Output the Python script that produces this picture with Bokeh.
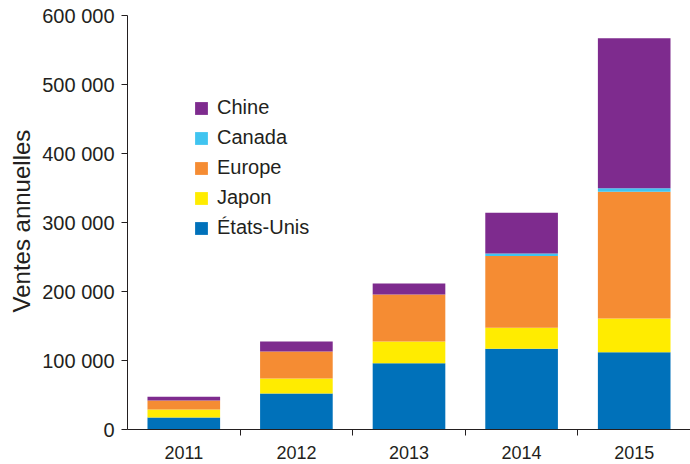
from bokeh.plotting import figure
from bokeh.models import ColumnDataSource, Range1d, FixedTicker, Legend, LegendItem, Title
from bokeh.embed import file_html
from bokeh.resources import INLINE

years = [2011, 2012, 2013, 2014, 2015]
year_labels = ["2011", "2012", "2013", "2014", "2015"]
etats_unis = [17500, 52000, 96000, 117000, 112000]
japon = [11500, 22000, 31500, 30500, 49000]
europe = [13000, 39000, 68000, 104000, 183500]
canada = [0, 0, 0, 3500, 5000]
chine = [5500, 14500, 16000, 59000, 217500]

series_keys = ["etats_unis", "japon", "europe", "canada", "chine"]
series_names = ["États-Unis", "Japon", "Europe", "Canada", "Chine"]
series_colors = ["#0071BA", "#FFEC00", "#F58C33", "#40C4F0", "#7E2B8E"]

y_ticks = [0, 100000, 200000, 300000, 400000, 500000, 600000]
y_tick_labels = ["0", "100 000", "200 000", "300 000", "400 000", "500 000", "600 000"]
y_title = "Ventes annuelles"

source = ColumnDataSource(dict(year=years, etats_unis=etats_unis, japon=japon,
                               europe=europe, canada=canada, chine=chine))

FONT = "Liberation Sans"
TXT = "#231F20"

p = figure(width=690, height=464, output_backend="svg", toolbar_location=None,
           x_range=Range1d(years[0] - 0.5, years[-1] + 0.5),
           y_range=Range1d(y_ticks[0], y_ticks[-1]),
           min_border_left=126, min_border_right=0, min_border_top=15, min_border_bottom=35)
p.outline_line_color = None
p.xgrid.visible = False
p.ygrid.visible = False

renderers = p.vbar_stack(series_keys, x="year", width=0.645, source=source,
                         fill_color=series_colors, line_color=None)

# y axis
ya = p.yaxis[0]
ya.ticker = FixedTicker(ticks=y_ticks)
ya.major_label_overrides = {t: l for t, l in zip(y_ticks, y_tick_labels)}
ya.major_tick_out = 6
ya.major_tick_in = 0
ya.minor_tick_out = 0
ya.minor_tick_in = 0
ya.major_label_standoff = 7
ya.major_label_text_font = FONT
ya.major_label_text_font_size = "20px"
ya.major_label_text_color = TXT
ya.axis_line_color = TXT
ya.major_tick_line_color = TXT

# x axis: labels at year centres, small ticks between categories
xa = p.xaxis[0]
xa.ticker = FixedTicker(ticks=years, minor_ticks=[y + 0.5 for y in years[:-1]])
xa.major_label_overrides = {y: l for y, l in zip(years, year_labels)}
xa.major_tick_out = 0
xa.major_tick_in = 0
xa.minor_tick_out = 6
xa.minor_tick_in = 0
xa.major_label_standoff = 10
xa.major_label_text_font = FONT
xa.major_label_text_font_size = "18px"
xa.major_label_text_color = TXT
xa.axis_line_color = TXT
xa.minor_tick_line_color = TXT

# y axis title
ytitle = Title(text=y_title, align="left", offset=117,
               text_font=FONT, text_font_size="24px", text_font_style="normal",
               text_color=TXT, standoff=10)
p.add_layout(ytitle, "left")

# legend (top item = last stacked series)
items = [LegendItem(label=n, renderers=[r]) for n, r in zip(series_names, renderers)]
items = items[::-1]
legend = Legend(items=items, location=(66, 190), padding=0, margin=0, spacing=7,
                glyph_width=16, glyph_height=16, label_standoff=8,
                label_text_font=FONT, label_text_font_size="20px", label_text_color=TXT,
                border_line_color=None, background_fill_alpha=0)
p.add_layout(legend)

open("out.html", "w").write(file_html(p, INLINE))
